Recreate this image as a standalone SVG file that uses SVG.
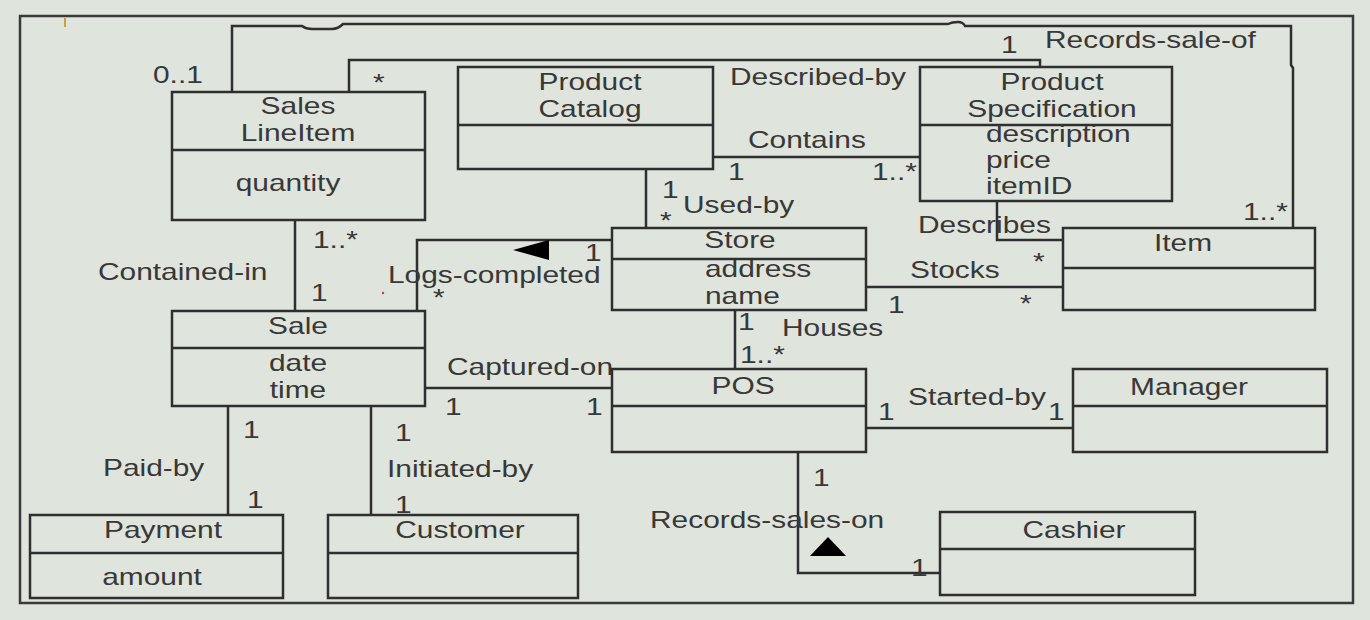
<svg xmlns="http://www.w3.org/2000/svg" width="1370" height="620" viewBox="0 0 1370 620">
<style>
.bg{fill:#dfe4dc}
.box{fill:none;stroke:#2f2f2f;stroke-width:2.5}
.ln{fill:none;stroke:#2f2f2f;stroke-width:2.5}
.t{font-family:"Liberation Sans",Arial,sans-serif;font-size:23px;fill:#383838}
.c{text-anchor:middle}
.tri{fill:#000}
</style>
<rect class="bg" x="0" y="0" width="1370" height="620"/>
<rect x="20" y="16" width="1333" height="587" fill="none" stroke="#3a3a3a" stroke-width="2.5"/>
<line x1="65" y1="18" x2="65" y2="27" stroke="#c8a040" stroke-width="2"/>
<circle cx="383" cy="293" r="1.2" fill="#e03030"/>

<g id="connectors">
<path class="ln" d="M232 92 V26 H302 Q306 29 312 29 H332 Q338 29 343 24 H948 Q952 22 958 22 Q963 22 965 26 H1291 V65 L1293 68 V228"/>
<path class="ln" d="M349 92 V60 H1040 V67"/>
<path class="ln" d="M713 157 H920"/>
<path class="ln" d="M646 169 V228"/>
<path class="ln" d="M997 201 V240 H1063"/>
<path class="ln" d="M866 287 H1063"/>
<path class="ln" d="M612 240 H417 V311"/>
<path class="ln" d="M295 220 V311"/>
<path class="ln" d="M425 388 H612"/>
<path class="ln" d="M735 310 V369"/>
<path class="ln" d="M866 428 H1073"/>
<path class="ln" d="M798 452 V573 H940"/>
<path class="ln" d="M228 406 V515"/>
<path class="ln" d="M371 406 V515"/>
<polygon class="tri" points="513,250 549,240 549,260"/>
<polygon class="tri" points="828,537 810,556 846,556"/>
<g class="t">
<text transform="translate(153,83) scale(1.3,1)">0..1</text>
<text transform="translate(373,91) scale(1.3,1)">*</text>
<text transform="translate(1001,53) scale(1.3,1)">1</text>
<text transform="translate(1045,48) scale(1.3,1)">Records-sale-of</text>
<text transform="translate(730,85) scale(1.3,1)">Described-by</text>
<text transform="translate(748,148) scale(1.3,1)">Contains</text>
<text transform="translate(728,180) scale(1.3,1)">1</text>
<text transform="translate(872,180) scale(1.3,1)">1..*</text>
<text transform="translate(662,198) scale(1.3,1)">1</text>
<text transform="translate(660,229) scale(1.3,1)">*</text>
<text transform="translate(683,213) scale(1.3,1)">Used-by</text>
<text transform="translate(918,233) scale(1.3,1)">Describes</text>
<text transform="translate(1243,220) scale(1.3,1)">1..*</text>
<text transform="translate(1033,270) scale(1.3,1)">*</text>
<text transform="translate(910,278) scale(1.3,1)">Stocks</text>
<text transform="translate(888,313) scale(1.3,1)">1</text>
<text transform="translate(1020,312) scale(1.3,1)">*</text>
<text transform="translate(585,261) scale(1.3,1)">1</text>
<text transform="translate(388,283) scale(1.3,1)">Logs-completed</text>
<text transform="translate(433,306) scale(1.3,1)">*</text>
<text transform="translate(313,248) scale(1.3,1)">1..*</text>
<text transform="translate(311,301) scale(1.3,1)">1</text>
<text transform="translate(98,280) scale(1.3,1)">Contained-in</text>
<text transform="translate(447,375) scale(1.3,1)">Captured-on</text>
<text transform="translate(445,415) scale(1.3,1)">1</text>
<text transform="translate(586,415) scale(1.3,1)">1</text>
<text transform="translate(738,330) scale(1.3,1)">1</text>
<text transform="translate(782,336) scale(1.3,1)">Houses</text>
<text transform="translate(740,363) scale(1.3,1)">1..*</text>
<text transform="translate(908,405) scale(1.3,1)">Started-by</text>
<text transform="translate(878,420) scale(1.3,1)">1</text>
<text transform="translate(1048,420) scale(1.3,1)">1</text>
<text transform="translate(243,438) scale(1.3,1)">1</text>
<text transform="translate(103,476) scale(1.3,1)">Paid-by</text>
<text transform="translate(247,508) scale(1.3,1)">1</text>
<text transform="translate(395,441) scale(1.3,1)">1</text>
<text transform="translate(387,477) scale(1.3,1)">Initiated-by</text>
<text transform="translate(395,513) scale(1.3,1)">1</text>
<text transform="translate(813,486) scale(1.3,1)">1</text>
<text transform="translate(650,528) scale(1.3,1)">Records-sales-on</text>
<text transform="translate(911,576) scale(1.3,1)">1</text>
</g>
</g>

<g id="SalesLineItem">
<rect class="box" x="172" y="92" width="253" height="128"/>
<line class="box" x1="172" y1="150" x2="425" y2="150"/>
<text class="t c" transform="translate(298,114) scale(1.3,1)">Sales</text>
<text class="t c" transform="translate(298,141) scale(1.3,1)">LineItem</text>
<text class="t c" transform="translate(288,191) scale(1.3,1)">quantity</text>
</g>
<g id="ProductCatalog">
<rect class="box" x="458" y="67" width="255" height="102"/>
<line class="box" x1="458" y1="125" x2="713" y2="125"/>
<text class="t c" transform="translate(590,90) scale(1.3,1)">Product</text>
<text class="t c" transform="translate(590,117) scale(1.3,1)">Catalog</text>
</g>
<g id="ProductSpecification">
<rect class="box" x="920" y="67" width="252" height="134"/>
<line class="box" x1="920" y1="125" x2="1172" y2="125"/>
<text class="t c" transform="translate(1052,90) scale(1.3,1)">Product</text>
<text class="t c" transform="translate(1052,117) scale(1.3,1)">Specification</text>
<text class="t" transform="translate(986,142) scale(1.3,1)">description</text>
<text class="t" transform="translate(986,168) scale(1.3,1)">price</text>
<text class="t" transform="translate(986,194) scale(1.3,1)">itemID</text>
</g>
<g id="Store">
<rect class="box" x="612" y="228" width="254" height="82"/>
<line class="box" x1="612" y1="259" x2="866" y2="259"/>
<text class="t c" transform="translate(740,248) scale(1.3,1)">Store</text>
<text class="t" transform="translate(705,277) scale(1.3,1)">address</text>
<text class="t" transform="translate(705,304) scale(1.3,1)">name</text>
</g>
<g id="Item">
<rect class="box" x="1063" y="228" width="252" height="82"/>
<line class="box" x1="1063" y1="268" x2="1315" y2="268"/>
<text class="t c" transform="translate(1183,251) scale(1.3,1)">Item</text>
</g>
<g id="Sale">
<rect class="box" x="172" y="311" width="253" height="95"/>
<line class="box" x1="172" y1="348" x2="425" y2="348"/>
<text class="t c" transform="translate(298,334) scale(1.3,1)">Sale</text>
<text class="t c" transform="translate(298,371) scale(1.3,1)">date</text>
<text class="t c" transform="translate(298,398) scale(1.3,1)">time</text>
</g>
<g id="POS">
<rect class="box" x="612" y="369" width="254" height="83"/>
<line class="box" x1="612" y1="406" x2="866" y2="406"/>
<text class="t c" transform="translate(743,394) scale(1.3,1)">POS</text>
</g>
<g id="Manager">
<rect class="box" x="1073" y="369" width="254" height="83"/>
<line class="box" x1="1073" y1="406" x2="1327" y2="406"/>
<text class="t c" transform="translate(1189,395) scale(1.3,1)">Manager</text>
</g>
<g id="Payment">
<rect class="box" x="30" y="515" width="253" height="83"/>
<line class="box" x1="30" y1="553" x2="283" y2="553"/>
<text class="t c" transform="translate(163,538) scale(1.3,1)">Payment</text>
<text class="t c" transform="translate(152,585) scale(1.3,1)">amount</text>
</g>
<g id="Customer">
<rect class="box" x="328" y="515" width="250" height="83"/>
<line class="box" x1="328" y1="553" x2="578" y2="553"/>
<text class="t c" transform="translate(460,538) scale(1.3,1)">Customer</text>
</g>
<g id="Cashier">
<rect class="box" x="940" y="512" width="255" height="83"/>
<line class="box" x1="940" y1="549" x2="1195" y2="549"/>
<text class="t c" transform="translate(1074,538) scale(1.3,1)">Cashier</text>
</g>
</svg>
